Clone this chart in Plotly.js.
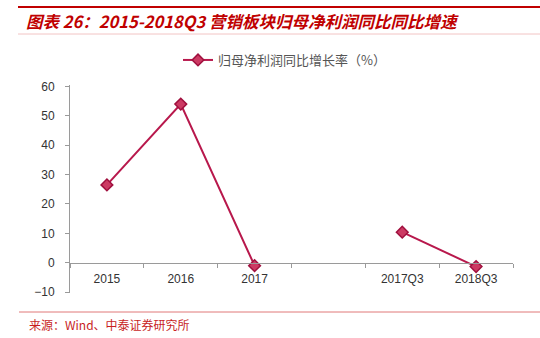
<!DOCTYPE html>
<html>
<head>
<meta charset="utf-8">
<script src="https://cdn.plot.ly/plotly-3.0.1.min.js"></script>
<style>html,body{margin:0;padding:0;background:#fff;}#chart{width:540px;height:338px;}</style>
</head>
<body>
<div id="chart"></div>
<script>
// Data
const categories = ["2015", "2016", "2017", " ", "2017Q3", "2018Q3"];
const growthValues = [26.5, 54.0, -1.0, null, 10.4, -1.3];
const seriesName = "归母净利润同比增长率（%）";
const titleText = "图表 26：2015-2018Q3 营销板块归母净利润同比同比增速";
const sourceText = "来源：Wind、中泰证券研究所";
const yTickVals = [-10, 0, 10, 20, 30, 40, 50, 60];

// Layout geometry (pixels)
const W = 540, H = 338;
const mL = 70, mR = 27, mT = 85, mB = 45;
const plotW = W - mL - mR, plotH = H - mT - mB;
const px2x = p => (p - mL) / plotW;
const px2y = p => (H - mB - p) / plotH;
const yMin = -10.3, yMax = 60.5;

const font = "Liberation Sans, Arial, sans-serif";
const cjk = "Noto Sans CJK SC, sans-serif";

const trace = {
  x: categories,
  y: growthValues,
  name: seriesName,
  type: "scatter",
  mode: "lines+markers",
  connectgaps: false,
  line: {color: "#B8184C", width: 2},
  marker: {symbol: "diamond", size: 9, color: "#CC3A63", line: {color: "#A0103E", width: 1.5}},
  cliponaxis: false
};

const layout = {
  width: W, height: H,
  margin: {l: mL, r: mR, t: mT, b: mB},
  paper_bgcolor: "#fff", plot_bgcolor: "#fff",
  showlegend: true,
  legend: {
    orientation: "h", xref: "container", yref: "container",
    x: 178 / W, y: 1 - 45 / H, xanchor: "left", yanchor: "top",
    font: {family: cjk, size: 13, color: "#555"},
    itemwidth: 30, bgcolor: "rgba(0,0,0,0)"
  },
  title: {
    text: "<b><i>" + titleText + "</i></b>",
    xref: "container", yref: "container",
    x: 26 / W, xanchor: "left", y: 1 - 22 / H, yanchor: "middle",
    font: {family: cjk, size: 16.5, color: "#C00000"}
  },
  xaxis: {
    type: "category",
    categoryorder: "array", categoryarray: categories,
    range: [-0.5, categories.length - 0.5],
    anchor: "free", position: (0 - yMin) / (yMax - yMin),
    showline: true, linecolor: "#9a9a9a", linewidth: 1,
    ticks: "outside", ticklen: 4, tickcolor: "#9a9a9a", tickson: "boundaries",
    ticklabelstandoff: 5,
    showgrid: false, zeroline: false,
    tickfont: {family: font, size: 12, color: "#333"},
    fixedrange: true
  },
  yaxis: {
    range: [yMin, yMax],
    tickvals: yTickVals,
    showline: true, linecolor: "#9a9a9a", linewidth: 1,
    ticks: "outside", ticklen: 4, tickcolor: "#9a9a9a",
    ticklabelstandoff: 8,
    showgrid: false, zeroline: false,
    tickfont: {family: font, size: 12, color: "#333"},
    fixedrange: true
  },
  shapes: [
    {type: "line", xref: "paper", yref: "paper", x0: px2x(18), x1: px2x(540), y0: px2y(7), y1: px2y(7), line: {color: "#C00000", width: 2}},
    {type: "line", xref: "paper", yref: "paper", x0: px2x(18), x1: px2x(540), y0: px2y(34), y1: px2y(34), line: {color: "#F2C4C4", width: 1}},
    {type: "line", xref: "paper", yref: "paper", x0: px2x(19), x1: px2x(540), y0: px2y(312), y1: px2y(312), line: {color: "#E07878", width: 1}}
  ],
  annotations: [
    {text: sourceText, xref: "paper", yref: "paper", x: px2x(27), y: px2y(324), xanchor: "left", yanchor: "middle", showarrow: false,
     font: {family: cjk, size: 12, color: "#C81E1E"}}
  ]
};

Plotly.newPlot("chart", [trace], layout, {staticPlot: true, displayModeBar: false});
</script>
</body>
</html>
